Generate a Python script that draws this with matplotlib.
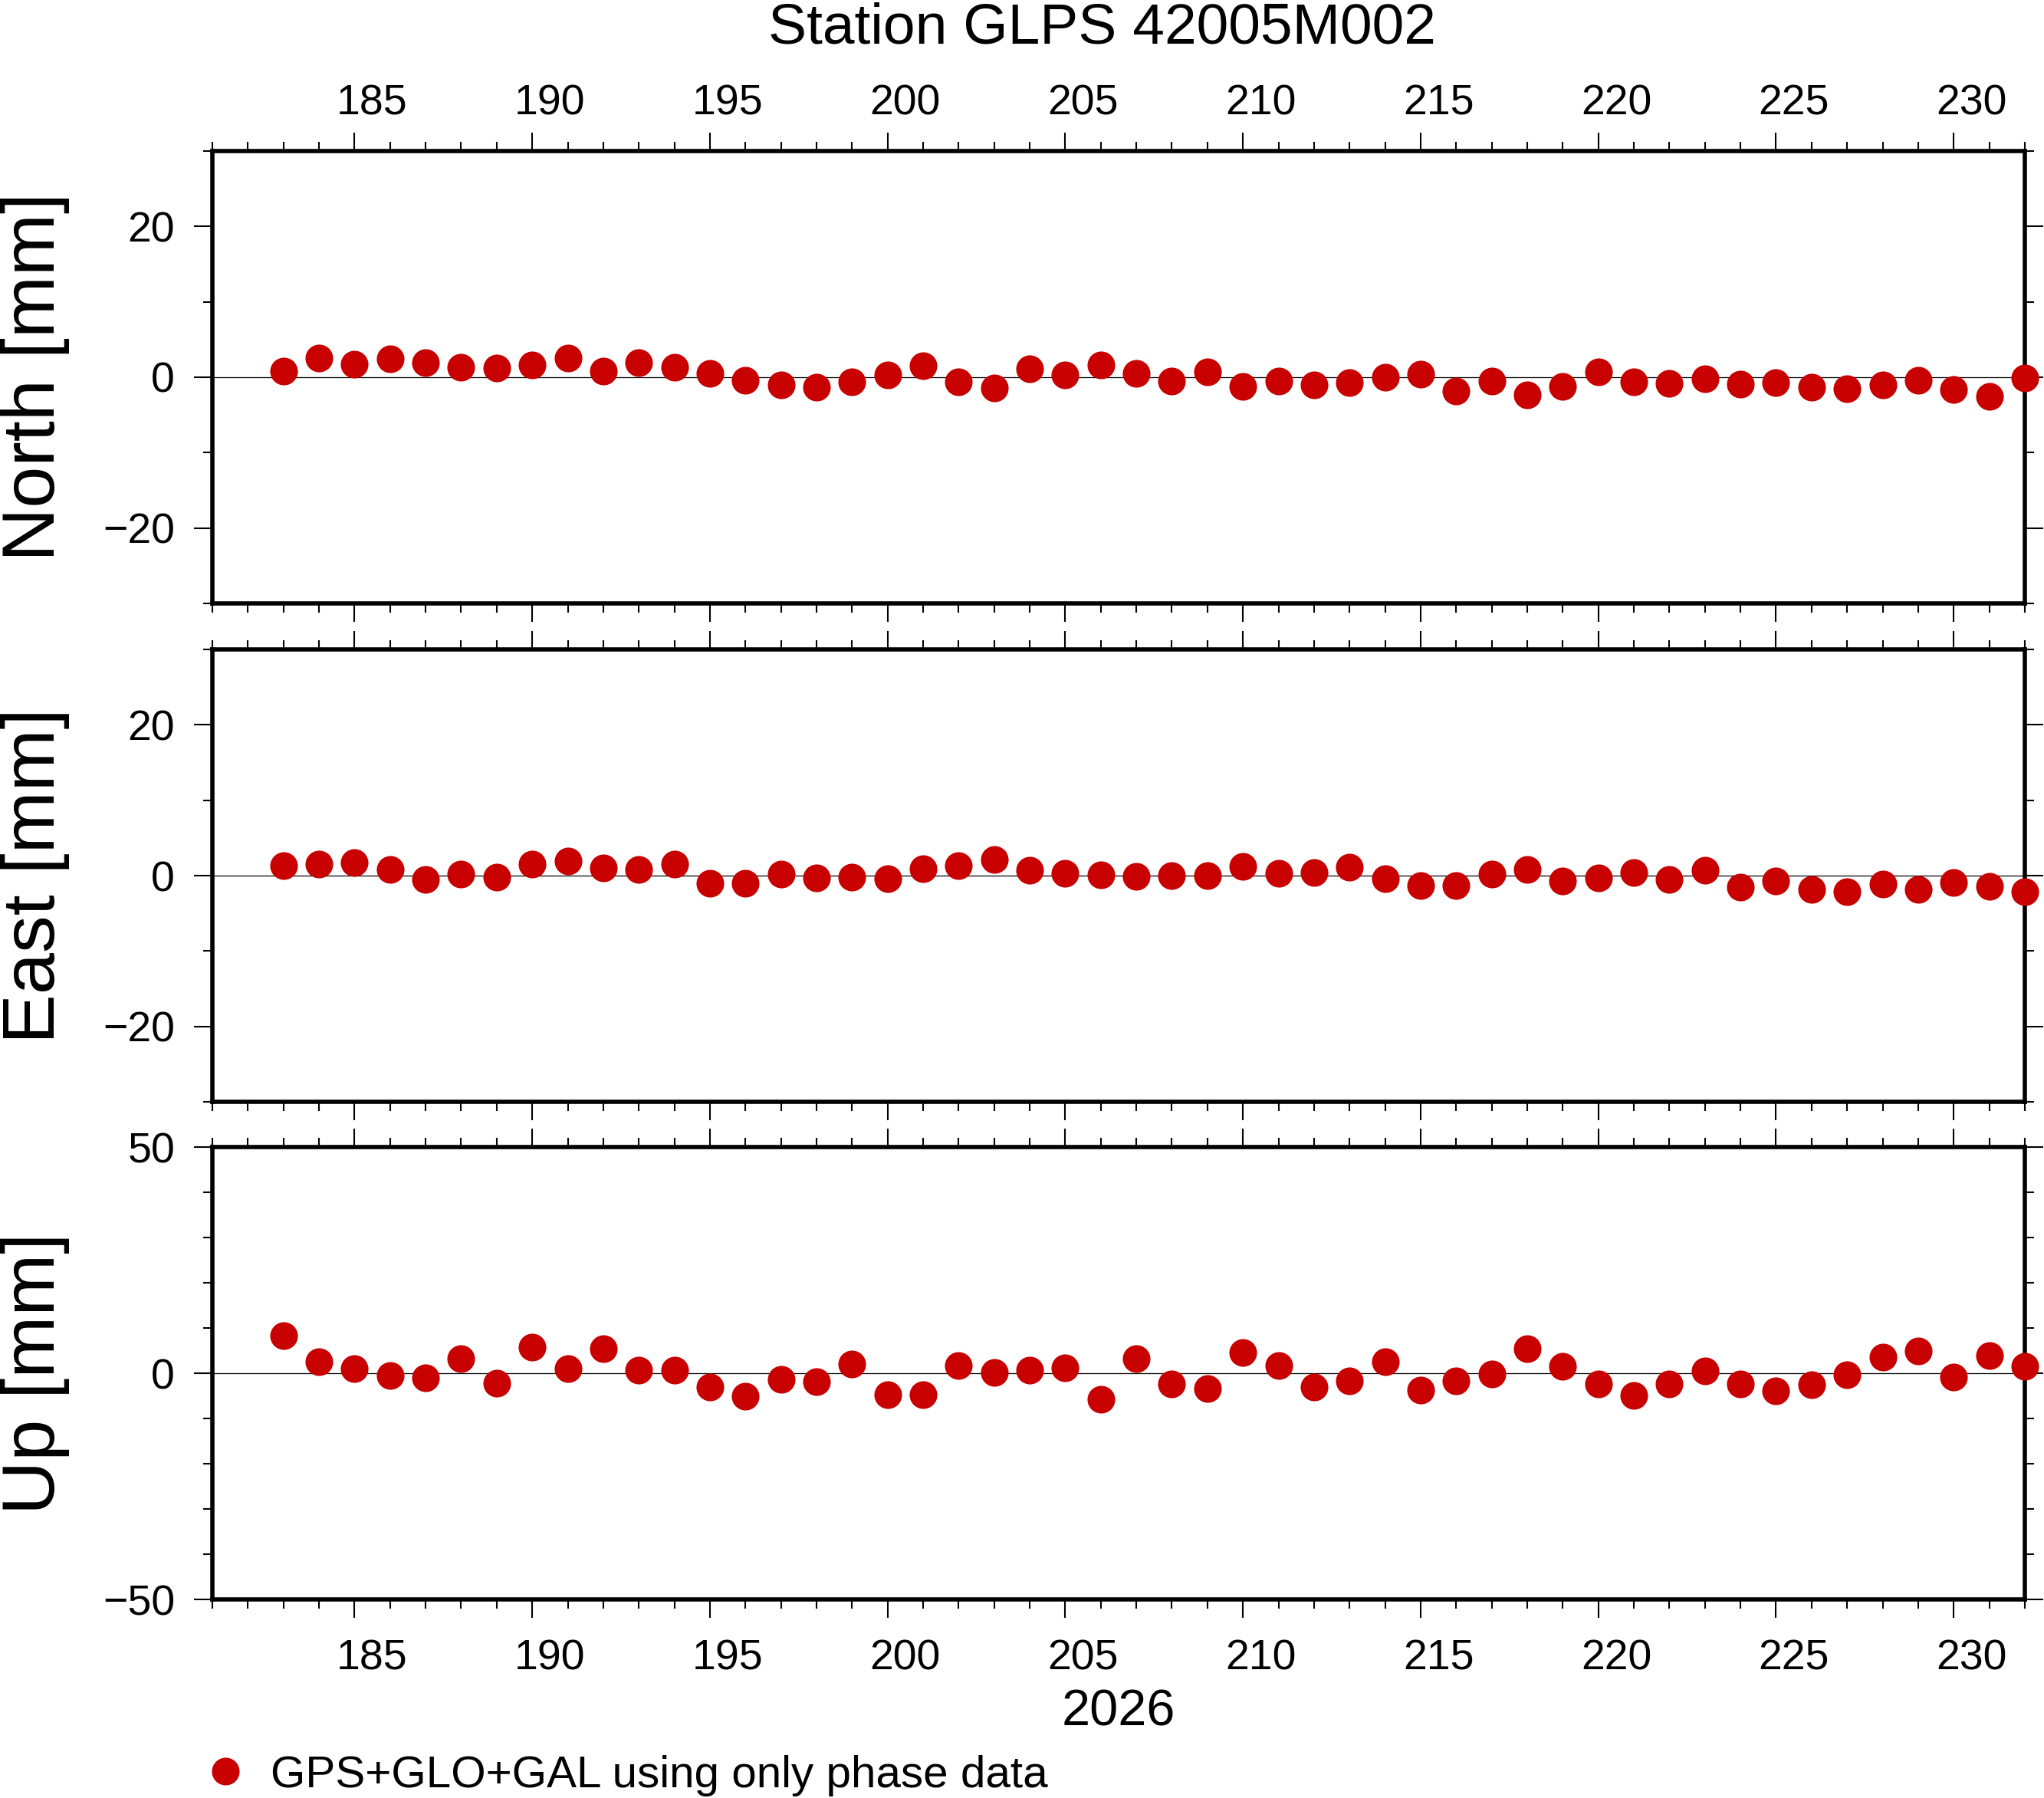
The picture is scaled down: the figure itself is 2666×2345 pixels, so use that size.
import matplotlib
matplotlib.use("Agg")
import matplotlib.pyplot as plt
from matplotlib.lines import Line2D
from matplotlib.transforms import ScaledTranslation

plt.rcParams['font.family'] = ['Liberation Sans', 'DejaVu Sans']

# day of year 2026
days = list(range(183, 233))

north = [0.78, 2.53, 1.71, 2.42, 1.89, 1.28, 1.20, 1.60, 2.53, 0.78,
         1.98, 1.28, 0.48, -0.44, -1.03, -1.37, -0.65, 0.27, 1.49, -0.65,
         -1.45, 1.09, 0.27, 1.60, 0.50, -0.53, 0.69, -1.24, -0.53, -1.01,
         -0.72, 0.00, 0.42, -1.85, -0.50, -2.34, -1.22, 0.72, -0.61, -0.82,
         -0.21, -0.93, -0.72, -1.35, -1.52, -1.01, -0.42, -1.66, -2.53, -0.15]

east = [1.32, 1.52, 1.72, 0.81, -0.51, 0.20, -0.20, 1.52, 1.93, 1.01,
        0.81, 1.52, -1.01, -1.01, 0.20, -0.30, -0.20, -0.41, 0.91, 1.32,
        2.13, 0.71, 0.30, 0.10, -0.10, 0.00, 0.00, 1.22, 0.30, 0.41,
        1.11, -0.41, -1.32, -1.32, 0.20, 0.81, -0.71, -0.30, 0.41, -0.51,
        0.71, -1.52, -0.71, -1.82, -2.13, -1.11, -1.82, -0.91, -1.42, -2.13]

up = [8.33, 2.57, 1.05, -0.48, -0.99, 3.25, -2.18, 5.79, 1.05, 5.45,
      0.71, 0.71, -3.02, -5.06, -1.33, -1.84, 2.06, -4.72, -4.72, 1.72,
      0.20, 0.71, 1.21, -5.73, 3.25, -2.34, -3.36, 4.60, 1.72, -3.02,
      -1.67, 2.57, -3.70, -1.67, -0.14, 5.45, 1.55, -2.34, -4.89, -2.34,
      0.54, -2.34, -3.87, -2.51, -0.31, 3.59, 4.94, -0.82, 3.93, 1.55]

labels = ["North [mm]", "East [mm]", "Up [mm]"]
series = [north, east, up]
ylims = [30, 30, 50]
ymajor = [20, 20, 50]

title = "Station GLPS 42005M002"
year = "2026"
legend_text = "GPS+GLO+GAL using only phase data"
red = '#c80000'

fig = plt.figure(figsize=(13.33, 11.725), dpi=200)

left, width, height = 0.1039, 0.8867, 0.2516
bottoms = [0.6644, 0.3872, 0.1104]
xmin, xmax = 181, 232
# GMT puts the day annotation in the middle of the day interval
dx = 0.5 / (xmax - xmin) * width * fig.get_figwidth()
offset = ScaledTranslation(dx, 0, fig.dpi_scale_trans)

for i in range(3):
    ax = fig.add_axes([left, bottoms[i], width, height])
    lim = ylims[i]
    ax.axhline(0, color='black', lw=0.45, zorder=1)
    ax.plot(days, series[i], 'o', color=red, ms=13, mec='none',
            clip_on=False, zorder=3)

    ax.set_xlim(xmin, xmax)
    ax.set_ylim(-lim, lim)
    ax.set_xticks(range(185, 231, 5))
    ax.set_xticks(range(xmin, xmax + 1), minor=True)
    ax.set_yticks(range(-lim + (lim % ymajor[i]), lim + 1, ymajor[i]))
    ax.set_yticks(range(-lim, lim + 1, 10), minor=True)

    ax.tick_params(which='both', direction='out', top=True, right=True,
                   width=0.75, labelsize=20)
    ax.tick_params(which='major', length=8.6)
    ax.tick_params(which='minor', length=4.3)
    ax.tick_params(axis='y', pad=9)

    if i == 0:
        ax.tick_params(axis='x', labeltop=True, labelbottom=False, pad=4)
    elif i == 1:
        ax.tick_params(axis='x', labelbottom=False)
    else:
        ax.tick_params(axis='x', pad=10)
        ax.set_xlabel(year, fontsize=24, va='baseline')
        ax.xaxis.set_label_coords(0.5, -0.278)

    for tick in ax.xaxis.get_major_ticks():
        for lab in (tick.label1, tick.label2):
            lab.set_transform(lab.get_transform() + offset)

    for sp in ax.spines.values():
        sp.set_linewidth(2)
        sp.set_capstyle('projecting')

    ax.set_ylabel(labels[i], fontsize=35, va='center')
    ax.yaxis.set_label_coords(-0.0977, 0.5)

fig.text(0.539, 0.9757, title, ha='center', va='baseline', fontsize=27)

handle = Line2D([], [], ls='none', marker='o', ms=13, color=red, mec='none')
fig.legend(handles=[handle], labels=[legend_text], loc='center left',
           bbox_to_anchor=(0.0994, 0.0125), frameon=False, fontsize=21,
           handlelength=1.0, handletextpad=0.5, borderpad=0, borderaxespad=0)

fig.savefig("out.png", dpi=200)
